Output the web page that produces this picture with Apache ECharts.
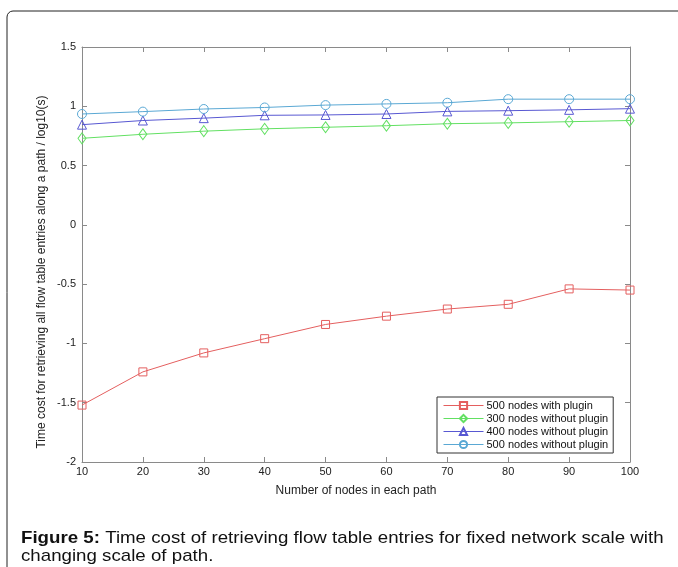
<!DOCTYPE html>
<html>
<head>
<meta charset="utf-8">
<script src="https://cdn.jsdelivr.net/npm/echarts@6/dist/echarts.min.js"></script>
<style>
  html, body { margin: 0; padding: 0; background: #fff; }
  #chart { width: 678px; height: 567px; }
</style>
</head>
<body>
<div id="chart"></div>
<script>
// values (log10 seconds)
const nodesPerPath = [10, 20, 30, 40, 50, 60, 70, 80, 90, 100];
const with500 = [-1.52, -1.24, -1.08, -0.96, -0.84, -0.77, -0.71, -0.67, -0.54, -0.55];
const without300 = [0.73, 0.764, 0.79, 0.81, 0.823, 0.836, 0.853, 0.86, 0.87, 0.88];
const without400 = [0.845, 0.88, 0.90, 0.924, 0.927, 0.935, 0.957, 0.963, 0.97, 0.98];
const without500 = [0.935, 0.955, 0.977, 0.99, 1.01, 1.02, 1.03, 1.06, 1.06, 1.06];

const seriesNames = ['500 nodes with plugin', '300 nodes without plugin', '400 nodes without plugin', '500 nodes without plugin'];
const seriesColors = ['#e45f5f', '#62e062', '#5858d2', '#5aa8d4'];
const seriesSymbols = ['rect', 'diamond', 'triangle', 'circle'];
const seriesSizes = [8, [8, 11], 9, 9];
const seriesValues = [with500, without300, without400, without500];

const axisGray = '#8a8a8a';
const font = 'Liberation Sans, Arial, sans-serif';

let chart = echarts.init(document.getElementById('chart'));

// hollow markers with a thin outline, like the original plot
let series = seriesNames.map((name, i) => ({
    name: name,
    type: 'line',
    data: nodesPerPath.map((x, j) => [x, seriesValues[i][j]]),
    symbol: seriesSymbols[i],
    symbolSize: seriesSizes[i],
    itemStyle: { color: 'rgba(255,255,255,0)', borderColor: seriesColors[i], borderWidth: 1 },
    lineStyle: { color: seriesColors[i], width: 1 },
    emphasis: { disabled: true },
    animation: false
}));

let option = {
    animation: false,
    graphic: [{
        type: 'rect',
        shape: { x: 7, y: 11, width: 700, height: 600, r: 6 },
        style: { fill: 'none', stroke: '#222', lineWidth: 1 },
        z: -1
    }, {
        type: 'text',
        x: 42,
        y: 272,
        rotation: Math.PI / 2,
        style: {
            text: 'Time cost for retrieving all flow table entries along a path / log10(s)',
            font: '12px ' + font,
            fill: '#222',
            align: 'center',
            verticalAlign: 'middle'
        }
    }, {
        type: 'text',
        x: 21,
        y: 529,
        scaleX: 1.1,
        style: {
            text: '{b|Figure 5:} Time cost of retrieving flow table entries for fixed network scale with\nchanging scale of path.',
            font: '17px ' + font,
            fill: '#111',
            lineHeight: 18,
            rich: {
                b: { font: 'bold 17px ' + font, fill: '#111', lineHeight: 18 }
            }
        }
    }],
    legend: {
        orient: 'vertical',
        left: 437,
        top: 397,
        itemGap: 2,
        itemWidth: 40,
        itemHeight: 9,
        padding: [3, 5, 3, 6],
        backgroundColor: '#fff',
        borderColor: '#333',
        borderWidth: 1,
        borderRadius: 0,
        lineStyle: { width: 1 },
        textStyle: { fontFamily: font, fontSize: 11, color: '#111', padding: [0, 0, 0, -2] },
        data: seriesNames
    },
    grid: { left: 82, right: 48, top: 47, bottom: 105, containLabel: false },
    xAxis: [{
        type: 'value',
        min: 10, max: 100, interval: 10,
        name: 'Number of nodes in each path',
        nameLocation: 'middle',
        nameGap: 23,
        nameTextStyle: { fontFamily: font, fontSize: 12, color: '#222' },
        axisLine: { onZero: false, lineStyle: { color: axisGray } },
        axisTick: { inside: true, length: 5, lineStyle: { color: axisGray } },
        axisLabel: { fontFamily: font, fontSize: 11, color: '#222', margin: 4 },
        splitLine: { show: false }
    }, {
        type: 'value',
        position: 'top',
        min: 10, max: 100, interval: 10,
        axisLine: { show: true, onZero: false, lineStyle: { color: axisGray } },
        axisTick: { inside: true, length: 5, lineStyle: { color: axisGray } },
        axisLabel: { show: false },
        splitLine: { show: false }
    }],
    yAxis: [{
        type: 'value',
        min: -2, max: 1.5, interval: 0.5,
        axisLine: { show: true, onZero: false, lineStyle: { color: axisGray } },
        axisTick: { show: true, inside: true, length: 5, lineStyle: { color: axisGray } },
        axisLabel: { fontFamily: font, fontSize: 11, color: '#222', margin: 6 },
        splitLine: { show: false }
    }, {
        type: 'value',
        position: 'right',
        min: -2, max: 1.5, interval: 0.5,
        axisLine: { show: true, onZero: false, lineStyle: { color: axisGray } },
        axisTick: { show: true, inside: true, length: 5, lineStyle: { color: axisGray } },
        axisLabel: { show: false },
        splitLine: { show: false }
    }],
    series: series
};

chart.setOption(option);
window.onresize = function () {
    chart.resize();
};
</script>
</body>
</html>
